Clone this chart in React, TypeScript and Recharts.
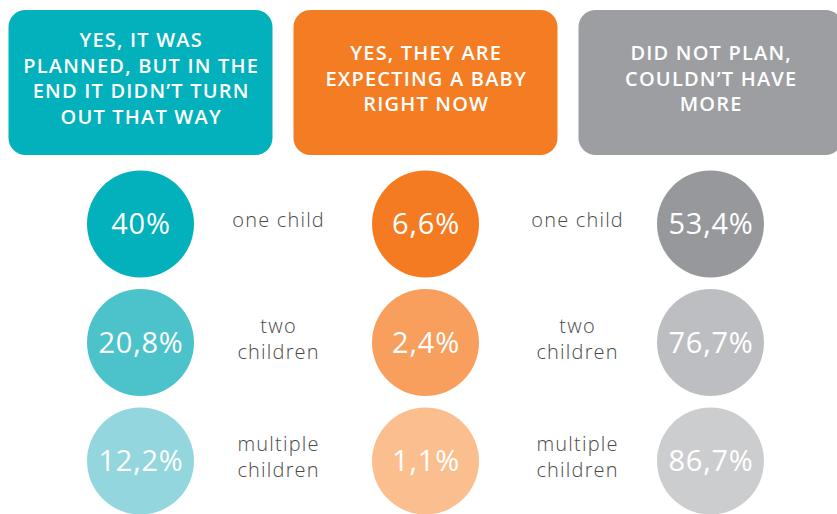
import { ScatterChart, Scatter, XAxis, YAxis } from "recharts";

// headers of the three groups, one string per line
const groupTitles = [
  ["YES, IT WAS", "PLANNED, BUT IN THE", "END IT DIDN\u2019T TURN", "OUT THAT WAY"],
  ["YES, THEY ARE", "EXPECTING A BABY", "RIGHT NOW"],
  ["DID NOT PLAN,", "COULDN\u2019T HAVE", "MORE"],
];

const categories = [["one child"], ["two", "children"], ["multiple", "children"]];

const plannedValues = [40, 20.8, 12.2];
const expectingValues = [6.6, 2.4, 1.1];
const notPlannedValues = [53.4, 76.7, 86.7];

const seriesValues = [plannedValues, expectingValues, notPlannedValues];

const headerColors = ["#02b1bb", "#f47c22", "#9d9ea2"];
const circleColors = [
  ["#02b1bb", "#4cc3cb", "#94d6dd"],
  ["#f47b21", "#f89f5d", "#fbbf8f"],
  ["#97989c", "#bdbec1", "#cccdcf"],
];

const W = 837;
const H = 514;
const COL_STEP = 285;
const ROW_STEP = 118.5;
const X_MIN = -140.5 / COL_STEP;
const Y_MIN = -224 / ROW_STEP;
const HEADER_ROW = 82.5 / ROW_STEP + Y_MIN;
const LABEL_DX = [137.5, 151.5];
const FONT = "'Open Sans', sans-serif";

const fmt = (v: number) => (Number.isInteger(v) ? `${v}%` : `${v}`.replace(".", ",") + "%");

const headerData = groupTitles.map((lines, col) => ({ col, row: HEADER_ROW, lines }));

const circleData = seriesValues.map((vals, col) =>
  vals.map((value, row) => ({ col, row, value }))
);

const HeaderShape = (props: any) => {
  const { cx, cy, payload } = props;
  const lines: string[] = payload.lines;
  const lh = 25.7;
  const first = cy - 4 - ((lines.length - 1) * lh) / 2;
  return (
    <g>
      <rect x={cx - 132} y={cy - 72.5} width={264} height={145} rx={17} fill={headerColors[payload.col]} />
      {lines.map((t, i) => (
        <text
          key={i}
          x={cx + 0.7}
          y={first + i * lh + 7}
          textAnchor="middle"
          fill="#fff"
          fontFamily={FONT}
          fontWeight={600}
          fontSize={20}
          letterSpacing={1.2}
        >
          {t}
        </text>
      ))}
    </g>
  );
};

const CircleShape = (props: any) => {
  const { cx, cy, payload } = props;
  const { col, row, value } = payload;
  const label = categories[row];
  const lx = col < 2 ? cx + LABEL_DX[col] : 0;
  return (
    <g>
      <circle cx={cx} cy={cy} r={53.5} fill={circleColors[col][row]} />
      <text
        x={cx + 0.5}
        y={cy + 10}
        textAnchor="middle"
        fill="#fff"
        fontFamily={FONT}
        fontWeight={500}
        fontSize={29}
        letterSpacing={0.8}
      >
        {fmt(value)}
      </text>
      {col < 2 &&
        label.map((t, i) => (
          <text
            key={i}
            x={lx + 0.6}
            y={label.length === 1 ? cy + 3 : cy - 10 + i * 26}
            textAnchor="middle"
            fill="#4a4a4a"
            fontFamily={FONT}
            fontWeight={300}
            fontSize={20}
            letterSpacing={1.2}
          >
            {t}
          </text>
        ))}
    </g>
  );
};

export default function App() {
  return (
    <div style={{ width: W, height: H }}>
      <style>{"body{margin:0;background:#fff}"}</style>
      <ScatterChart width={W} height={H} margin={{ top: 0, right: 0, bottom: 0, left: 0 }}>
        <XAxis
          type="number"
          dataKey="col"
          hide
          allowDataOverflow
          domain={[X_MIN, X_MIN + W / COL_STEP]}
        />
        <YAxis
          type="number"
          dataKey="row"
          hide
          reversed
          allowDataOverflow
          domain={[Y_MIN, Y_MIN + H / ROW_STEP]}
        />
        <Scatter data={headerData} shape={HeaderShape} isAnimationActive={false} />
        {circleData.map((d, i) => (
          <Scatter key={i} data={d} shape={CircleShape} isAnimationActive={false} />
        ))}
      </ScatterChart>
    </div>
  );
}
